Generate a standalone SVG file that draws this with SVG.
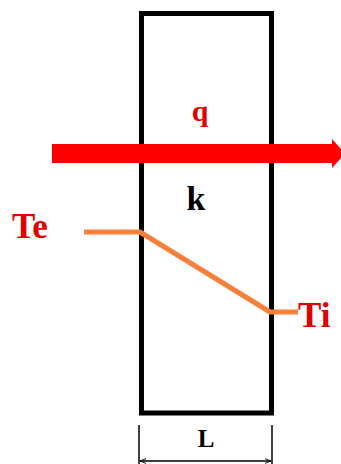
<svg xmlns="http://www.w3.org/2000/svg" width="341" height="464" viewBox="0 0 341 464">
<style>
.lbl{font-family:"Liberation Serif","Times New Roman",serif;font-weight:bold}
.red{fill:#e00000}
.dim{stroke:#000;stroke-width:1.5;fill:none}
</style>
<defs>
<marker id="dimA" viewBox="0 0 10 10" refX="10" refY="5" markerWidth="6" markerHeight="6" orient="auto-start-reverse" markerUnits="userSpaceOnUse">
<path d="M0,1 L10,5 L0,9" fill="none" stroke="#000" stroke-width="1.5"/>
</marker>
</defs>
<rect width="341" height="464" fill="#fff"/>
<g id="wall">
<rect x="141.5" y="13.5" width="130" height="399.5" fill="none" stroke="#000" stroke-width="5"/>
</g>
<g id="connectors">
<path id="heat-flow" d="M52,144 H332 V139 L345,153.5 L332,168 V163 H52 Z" fill="#ff0000"/>
<polyline id="temp-profile" points="84,232 140,232 270,312 298,312" fill="none" stroke="#f7813a" stroke-width="5" stroke-linejoin="round"/>
<g id="dimension">
<line class="dim" x1="139" y1="425" x2="139" y2="464"/>
<line class="dim" x1="272" y1="425" x2="272" y2="464"/>
<line class="dim" x1="140" y1="461" x2="271" y2="461" marker-start="url(#dimA)" marker-end="url(#dimA)"/>
</g>
</g>
<g id="label-q"><text class="lbl red" x="200" y="121" font-size="30" text-anchor="middle">q</text></g>
<g id="label-k"><text class="lbl" x="196" y="210" font-size="34" text-anchor="middle" fill="#000">k</text></g>
<g id="label-Te"><text class="lbl red" x="12" y="238" font-size="35">Te</text></g>
<g id="label-Ti"><text class="lbl red" x="298" y="327" font-size="35">Ti</text></g>
<g id="label-L"><text class="lbl" x="206" y="447" font-size="25" text-anchor="middle" fill="#000">L</text></g>
</svg>
